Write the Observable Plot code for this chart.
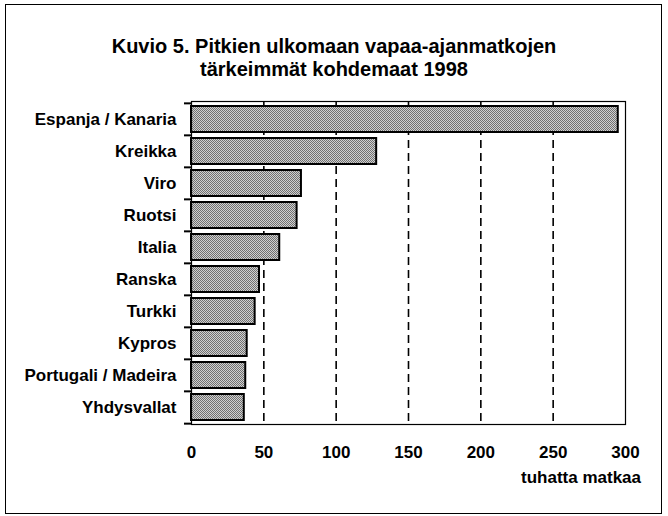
<!DOCTYPE html>
<html>
<head>
<meta charset="utf-8">
<script src="https://cdn.jsdelivr.net/npm/d3@7"></script>
<script src="https://cdn.jsdelivr.net/npm/@observablehq/plot@0.6"></script>
<style>
  html, body { margin: 0; padding: 0; background: #fff; }
  #wrap { position: relative; width: 668px; height: 516px; overflow: hidden; font-family: "Liberation Sans", Arial, sans-serif; }
  #border { position: absolute; left: 5px; top: 4px; width: 657px; height: 510px; border: 1.5px solid #000; box-sizing: border-box; }
  #title { position: absolute; left: 0; width: 668px; top: 35px; text-align: center; font-weight: bold; font-size: 20px; line-height: 22.5px; color: #000; }
  #xlabel { position: absolute; right: 27px; top: 468px; font-weight: bold; font-size: 17px; color: #000; }
  #chart { position: absolute; left: 0; top: 0; width: 668px; height: 516px; }
</style>
</head>
<body>
<div id="wrap">
  <div id="border"></div>
  <div id="title">Kuvio 5. Pitkien ulkomaan vapaa-ajanmatkojen<br>tärkeimmät kohdemaat 1998</div>
  <div id="chart"></div>
  <div id="xlabel">tuhatta matkaa</div>
</div>
<script>
const countries = ["Espanja / Kanaria", "Kreikka", "Viro", "Ruotsi", "Italia", "Ranska", "Turkki", "Kypros", "Portugali / Madeira", "Yhdysvallat"];
const trips = [295, 128, 76, 73, 61, 47, 44, 38.5, 37.5, 36.5];
const xTicks = [0, 50, 100, 150, 200, 250, 300];
const gridValues = [50, 100, 150, 200, 250];
const xUnit = "tuhatta matkaa";

const data = countries.map((c, i) => ({country: c, value: trips[i]}));

const W = 668, H = 516;
const mTop = 101, mBottom = 92, mLeft = 191, mRight = 43;
const step = (H - mTop - mBottom) / countries.length;
const xMax = xTicks[xTicks.length - 1];
const tickLen = 7 * xMax / (W - mLeft - mRight); // 7px expressed in x units
const last = countries[countries.length - 1];

const chart = Plot.plot({
  width: W,
  height: H,
  marginLeft: mLeft,
  marginRight: mRight,
  marginTop: mTop,
  marginBottom: mBottom,
  style: {fontFamily: "'Liberation Sans', Arial, sans-serif", fontSize: "17px", fontWeight: "bold", color: "#000", background: "transparent", overflow: "visible"},
  x: {domain: [0, xMax]},
  y: {domain: countries, paddingInner: 0.2, paddingOuter: 0.1},
  marks: [
    Plot.ruleX(gridValues, {stroke: "#000", strokeWidth: 1.6, strokeDasharray: "8,5"}),
    Plot.barX(data, {y: "country", x: "value", fill: "url(#dither)", stroke: "#000", strokeWidth: 2}),
    Plot.frame({stroke: "#000", strokeWidth: 1.2}),
    Plot.ruleY(countries, {y: d => d, x1: -tickLen, x2: 0, dy: -step / 2, stroke: "#000", strokeWidth: 2}),
    Plot.ruleY([last], {y: d => d, x1: -tickLen, x2: 0, dy: step / 2, stroke: "#000", strokeWidth: 2}),
    Plot.axisX({ticks: xTicks, tickSize: 0, tickPadding: 21, label: null, fontSize: 17, fontWeight: "bold"}),
    Plot.axisY({tickSize: 0, tickPadding: 15, label: null, fontSize: 17, fontWeight: "bold"})
  ]
});

// halftone-like fill pattern for the bars
const ns = "http://www.w3.org/2000/svg";
const defs = document.createElementNS(ns, "defs");
const pat = document.createElementNS(ns, "pattern");
pat.setAttribute("id", "dither");
pat.setAttribute("width", "2");
pat.setAttribute("height", "2");
pat.setAttribute("patternUnits", "userSpaceOnUse");
const bg = document.createElementNS(ns, "rect");
bg.setAttribute("width", "2"); bg.setAttribute("height", "2"); bg.setAttribute("fill", "#d0d0d0");
pat.appendChild(bg);
[[0, 0], [1, 1]].forEach(([px, py]) => {
  const r = document.createElementNS(ns, "rect");
  r.setAttribute("x", px); r.setAttribute("y", py);
  r.setAttribute("width", "1"); r.setAttribute("height", "1");
  r.setAttribute("fill", "#707070");
  pat.appendChild(r);
});
defs.appendChild(pat);
chart.insertBefore(defs, chart.firstChild);

document.getElementById("chart").appendChild(chart);
</script>
</body>
</html>
